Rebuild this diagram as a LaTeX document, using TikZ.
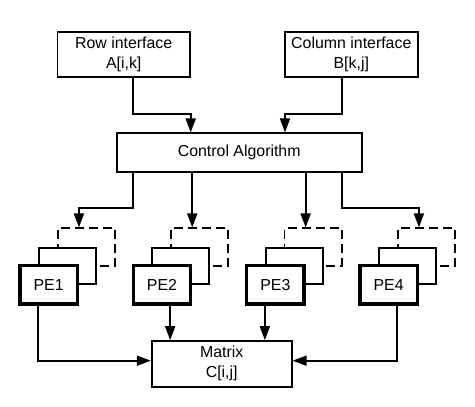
\documentclass[tikz,border=0pt]{standalone}
\usepackage{fontspec}
\setmainfont{Liberation Sans}
\usetikzlibrary{arrows.meta}
\begin{document}
\begin{tikzpicture}[x=1pt,y=-1pt,
  box/.style={draw, line width=1.7pt, fill=white, inner sep=0pt, align=center, font=\fontsize{15.9}{20}\selectfont},
  midbox/.style={draw, line width=1.7pt, fill=white, inner sep=0pt},
  dashbox/.style={draw, line width=1.7pt, dash pattern=on 9pt off 5pt, inner sep=0pt},
  arr/.style={line width=1.7pt, -{Triangle[length=14pt,width=10pt]}}]
\useasboundingbox (0,0) rectangle (475,407);

\node[box, minimum width=132.7pt, minimum height=45pt] (row) at (123.7,54.2) {Row interface\\A[i,k]};
\node[box, minimum width=132.7pt, minimum height=45pt] (col) at (351.3,54.2) {Column interface\\B[k,j]};
\node[box, minimum width=245pt, minimum height=38.4pt] (ctrl) at (239.2,152.5) {Control Algorithm};
\node[box, minimum width=140pt, minimum height=45.7pt] (mat) at (221.7,363.85) {Matrix\\C[i,j]};

\foreach \P/\i in {20/1,133.3/2,246.7/3,360/4} {
  \node[dashbox, minimum width=57.3pt, minimum height=37.7pt] (d\i) at (\P+66.35,247.15) {};
  \node[midbox, minimum width=57pt, minimum height=36pt] (m\i) at (\P+47.5,266.3) {};
  \node[box, line width=3.3pt, minimum width=57.3pt, minimum height=38.3pt] (pe\i) at (\P+28.65,284.85) {PE\i};
}

\coordinate (r1) at (133.3,114.3);
\coordinate (r2) at (190.7,114.3);
\draw[arr] (row.south -| r1) -- (r1) -- (r2) -- (ctrl.north -| r2);
\coordinate (c1) at (341.7,114.3);
\coordinate (c2) at (285,114.3);
\draw[arr] (col.south -| c1) -- (c1) -- (c2) -- (ctrl.north -| c2);

\coordinate (k1) at (133.3,208.3);
\draw[arr] (ctrl.south -| k1) -- (k1) -| (d1.north -| pe1.east);
\draw[arr] (ctrl.south -| pe2.east) -- (d2.north -| pe2.east);
\draw[arr] (ctrl.south -| pe3.east) -- (d3.north -| pe3.east);
\coordinate (k4) at (341.7,208.3);
\draw[arr] (ctrl.south -| k4) -- (k4) -| (d4.north -| pe4.east);

\coordinate (mj) at (0,360.7);
\draw[arr] (pe1.south -| m1.west) |- (mat.west |- mj);
\draw[arr] (pe2.south -| d2.west) -- (mat.north -| d2.west);
\draw[arr] (pe3.south -| m3.west) -- (mat.north -| m3.west);
\draw[arr] (pe4.south -| d4.west) |- (mat.east |- mj);
\end{tikzpicture}
\end{document}
